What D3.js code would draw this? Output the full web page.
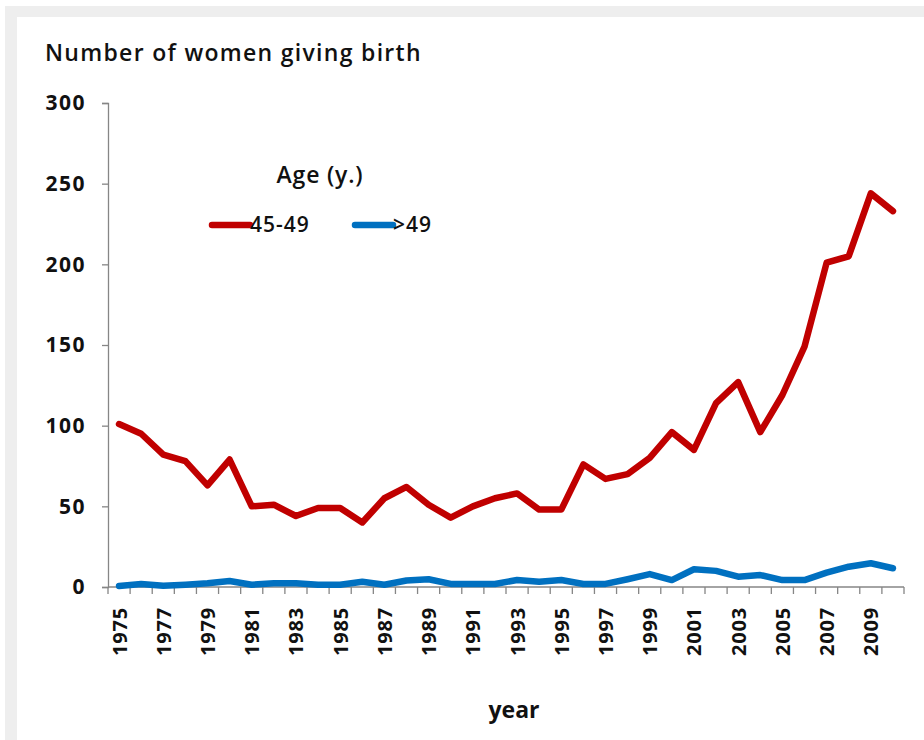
<!DOCTYPE html>
<html>
<head>
<meta charset="utf-8">
<script src="https://cdn.jsdelivr.net/npm/d3@7"></script>
<style>
  body { margin: 0; background: #fff; }
  svg text { font-family: "Open Sans", Lato, sans-serif; fill: #111; }
</style>
</head>
<body>
<div class="vis-linechart"></div>
<script>
// years on the x axis
const years = d3.range(1975, 2011);

// women aged 45-49 giving birth
const age4549 = [101, 95, 82, 78, 63, 79, 50, 51, 44, 49, 49, 40, 55, 62, 51, 43,
  50, 55, 58, 48, 48, 76, 67, 70, 80, 96, 85, 114, 127, 96, 119, 149, 201, 205, 244, 233];

// women older than 49 giving birth
const ageOver49 = [0.6, 1.9, 0.8, 1.4, 2.3, 3.7, 1.4, 2.3, 2.3, 1.4, 1.4, 3.3, 1.4, 4, 4.8, 1.9,
  1.9, 1.9, 4.3, 3.3, 4.3, 1.9, 1.9, 4.8, 8, 4.3, 11, 10, 6.4, 7.4, 4.3, 4.3, 8.9, 12.6, 14.7, 11.6];

const yTicks = [0, 50, 100, 150, 200, 250, 300];
const xTickLabels = years.filter((d, i) => i % 2 === 0);

const seriesNames = ["45-49", ">49"];
const seriesColors = ["#c00000", "#0070c0"];

const W = 924, H = 740;
let margin = { top: 103, right: 20, bottom: 153, left: 108 };
const width = 904 - margin.left;
const height = 587 - margin.top;

let svg = d3.select(".vis-linechart")
  .append("svg")
  .attr("width", W)
  .attr("height", H);

// grey frame round the white panel
svg.append("rect").attr("x", 5).attr("y", 6).attr("width", W - 5).attr("height", H - 6).attr("fill", "#eeeeee");
svg.append("rect").attr("x", 17).attr("y", 17).attr("width", W - 17).attr("height", H - 17).attr("fill", "#ffffff");

let g = svg.append("g")
  .attr("transform", "translate(" + margin.left + "," + margin.top + ")");

let x = d3.scaleBand().domain(years).range([0, width]).padding(0);
let y = d3.scaleLinear().domain([0, 300]).range([height, 0]);

// Y axis
let yAxis = g.append("g")
  .call(d3.axisLeft(y).tickValues(yTicks).tickSize(6).tickPadding(16));
yAxis.select(".domain").attr("stroke", "#868686").attr("stroke-width", 1.3);
yAxis.selectAll(".tick line").attr("stroke", "#868686").attr("stroke-width", 1.3);
yAxis.selectAll("text")
  .style("font-size", "21px")
  .style("font-weight", "bold")
  .style("letter-spacing", "1.5px")
  .attr("fill", "#111");

// X axis: ticks at category boundaries
let xAxis = g.append("g").attr("transform", "translate(0," + height + ")");
xAxis.append("line")
  .attr("x1", 0).attr("x2", width)
  .attr("y1", 0).attr("y2", 0)
  .attr("stroke", "#868686").attr("stroke-width", 1.3);
xAxis.selectAll(".xtick")
  .data(years.concat([2011]))
  .enter()
  .append("line")
  .attr("x1", (d, i) => i * x.bandwidth())
  .attr("x2", (d, i) => i * x.bandwidth())
  .attr("y1", 0).attr("y2", 7)
  .attr("stroke", "#868686").attr("stroke-width", 1.3);
xAxis.selectAll(".xlabel")
  .data(xTickLabels)
  .enter()
  .append("text")
  .attr("transform", d => "translate(" + (x(d) + x.bandwidth() / 2 + 7.5) + ",20) rotate(-90)")
  .style("text-anchor", "end")
  .style("font-size", "20px")
  .style("font-weight", "bold")
  .style("letter-spacing", "0.8px")
  .text(d => d);

// axis titles
svg.append("text")
  .attr("x", 45).attr("y", 61)
  .style("font-size", "23px")
  .style("font-weight", "600")
  .style("letter-spacing", "1.3px")
  .text("Number of women giving birth");

svg.append("text")
  .attr("x", 514).attr("y", 718)
  .style("text-anchor", "middle")
  .style("font-size", "23px")
  .style("font-weight", "bold")
  .text("year");

// lines
const line = d3.line()
  .x((d, i) => x(years[i]) + x.bandwidth() / 2)
  .y(d => y(d));

[age4549, ageOver49].forEach((s, k) => {
  g.append("path")
    .datum(s)
    .attr("fill", "none")
    .attr("stroke", seriesColors[k])
    .attr("stroke-width", 6.5)
    .attr("stroke-linejoin", "round")
    .attr("stroke-linecap", "round")
    .attr("d", line);
});

// legend
svg.append("text")
  .attr("x", 320).attr("y", 183)
  .style("text-anchor", "middle")
  .style("font-size", "23px")
  .style("font-weight", "600")
  .style("letter-spacing", "0.8px")
  .text("Age (y.)");

const legendX = [212, 355];
seriesNames.forEach((name, k) => {
  svg.append("line")
    .attr("x1", legendX[k]).attr("x2", legendX[k] + 38)
    .attr("y1", 225).attr("y2", 225)
    .attr("stroke", seriesColors[k])
    .attr("stroke-width", 6.5)
    .attr("stroke-linecap", "round");
  svg.append("text")
    .attr("x", legendX[k] + 38).attr("y", 232)
    .style("font-size", "21px")
    .style("font-weight", "600")
    .style("letter-spacing", "1px")
    .text(name);
});
</script>
</body>
</html>
